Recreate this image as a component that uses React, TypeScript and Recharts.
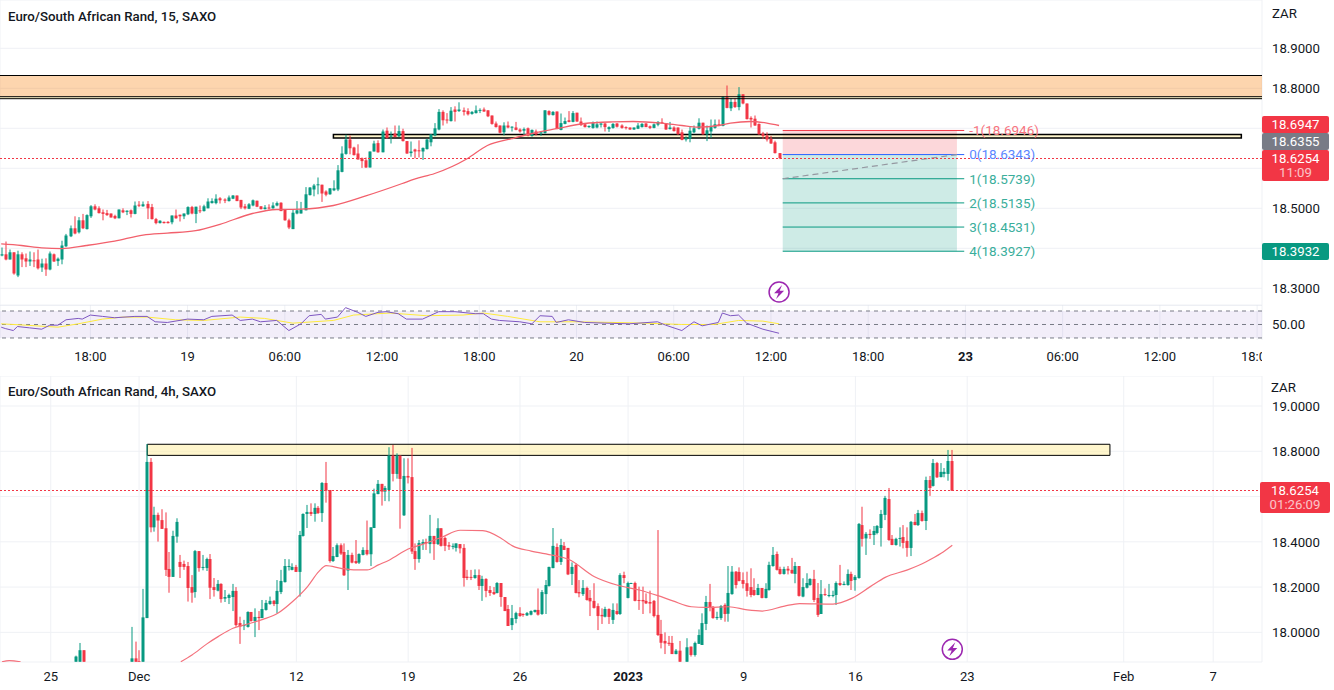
import React from "react";
import { ComposedChart, Bar, Line, XAxis, YAxis, CartesianGrid, ReferenceArea, ReferenceLine, ReferenceDot } from "recharts";

type C = [number, number, number, number];
const FONT = "Roboto, sans-serif";
const UP = "#089981";
const DOWN = "#f23645";
const GRID = "#eff1f5";
const TEXT = "#131722";

// Prices are stored as thousandths above 18 ZAR: [open, high, low, close]
const topCandlesA: C[] = [
[382,402,380,385],[385,417,370,372],[372,397,372,390],[390,390,334,337],[332,394,328,385],[385,390,353,372],[375,387,353,367],[367,392,356,372],[370,390,353,369],[372,397,347,350],
[352,374,341,362],[362,375,331,347],[347,392,345,387],[385,387,366,367],[368,377,356,374],[372,419,360,407],[405,436,403,432],[430,457,428,450],[450,480,435,437],[440,478,437,470],
[470,486,448,450],[448,485,447,483],[480,508,476,505],[505,510,495,497],[500,505,487,488],[490,497,470,486],[488,496,481,483],[487,487,477,477],[481,484,473,475],[475,497,475,497],
[495,500,488,490],[491,495,483,494],[495,497,477,486],[486,517,485,507],[509,518,503,507],[505,517,504,510],[511,518,473,500],[503,511,472,473],[473,476,460,463],[463,470,462,469],
[466,467,462,463],[466,468,462,463],[465,482,460,482],[482,497,474,475],[484,484,467,480],[480,487,473,487],[485,505,483,503],[503,506,485,487],[486,504,463,504],[495,507,488,493],
[493,509,492,505],[500,525,500,517],[513,525,512,518],[513,535,510,524],[525,528,512,520],[522,525,513,519],[518,532,517,527],[524,533,523,532],[532,532,518,518],[521,521,498,502],
[505,511,497,500],[499,513,498,510],[507,522,505,520],[519,519,503,504],[505,505,497,498],[498,508,497,502],[502,510,497,500],[500,515,499,507],[507,517,505,513],[514,515,493,493],
[498,498,469,470],[470,474,448,452],[448,496,448,489],[487,518,485,495],[487,516,487,497],[495,553,495,535],[533,553,532,552],[547,561,530,557],[558,577,535,560],[559,559,516,537],
[542,545,530,534],[535,550,534,550],[545,570,543,550],[547,608,543,595],[591,655,590,637],[636,684,634,672],[672,682,635,650],[652,654,632,633],[637,660,622,622],[625,627,601,618],
[620,627,601,602],[602,642,602,642],[642,669,642,662],[663,670,639,640],[640,697,640,692],[694,702,674,676],[679,692,662,682],[687,707,678,678],[680,707,678,693],
];
const topCandlesB: C[] = [
[693,699,667,668],[668,668,636,637],[638,667,629,642],[647,649,625,642],[645,670,627,643],[642,652,621,651],[648,674,647,672],[665,685,655,685],[682,713,680,700],[697,748,695,741],
[741,745,707,720],[722,738,712,720],[718,753,717,744],[747,755,717,741],[743,765,741,747],[745,752,732,741],[743,750,732,735],[736,743,734,741],[738,757,737,745],[744,750,738,746],
[747,752,741,742],[745,745,728,730],[732,732,709,711],[712,717,702,703],[707,707,687,689],[690,715,682,707],[707,717,700,702],[703,705,692,704],[702,716,695,696],[697,700,689,692],
[694,702,682,698],[700,702,680,682],[681,697,679,696],[692,697,682,685],[687,692,681,690],[688,745,687,745],[743,745,732,734],[733,743,732,741],[742,742,698,698],[696,737,695,713],
[711,727,710,718],[720,743,715,716],[716,743,715,738],[739,739,716,717],[717,727,706,708],[710,712,702,703],[703,707,701,706],[701,717,699,713],[702,717,700,710],[709,713,702,712],
[712,713,692,703],[698,705,691,703],[701,713,699,711],[712,713,702,704],[707,710,699,701],[703,705,697,701],[702,702,696,697],[697,702,696,702],[699,713,698,707],[703,713,702,711],
[712,713,703,703],[705,707,698,701],[701,712,700,710],[709,718,705,716],[715,725,712,713],[713,713,696,697],[698,716,697,702],[702,705,692,693],[702,702,684,685],[690,697,670,671],
[672,680,667,676],[674,703,665,694],[690,707,688,700],[699,725,697,714],[714,714,684,685],[685,707,668,695],[692,722,676,703],[701,722,699,710],[710,722,705,706],[706,780,705,778],
[778,807,750,751],[750,775,743,766],[766,775,751,753],[753,803,745,785],[785,785,760,762],[762,762,722,723],[726,730,702,722],[724,732,706,707],[711,712,684,685],[687,691,673,681],
[682,690,667,672],[674,681,661,662],[665,669,637,638],[638,638,623,625],
];
const topEmaIdx = [0,5,10,15,21,28,35,41,48,54,62,68,74,82,90,99,102,107,115,120,126,131,137,144,151,156,163,168,172,177,180,185,189,192];
const topEmaVal = [411,407,401,399,407,418,433,438,444,460,487,497,498,507,531,562,573,587,624,657,674,687,699,712,716,717,713,707,703,707,713,717,713,707];

const rsiIdx = [0,1,3,4,7,10,12,14,16,19,20,22,25,28,33,36,38,41,46,50,52,57,59,62,64,68,71,74,76,79,80,83,85,88,90,93,95,98,100,104,108,112,117,119,121,123,128,131,133,136,137,140,144,149,155,162,164,168,171,173,177,178,180,182,184,188,192];
const rsiVal = [46,44,41,47,45,43,49,49,57,59,58,64,62,60,62,62,54,53,58,57,62,64,56,58,54,56,41,51,63,65,58,61,75,68,62,68,69,66,58,58,69,69,66,66,58,56,54,51,63,62,53,57,53,52,51,54,49,41,54,48,53,67,63,64,52,43,37];
const rsiMaIdx = [0,6,14,19,25,30,36,43,50,59,65,72,82,87,96,105,114,119,125,133,142,151,159,168,176,182,188,192];
const rsiMaVal = [51,49,46,51,58,61,61,57,56,61,59,52,56,64,67,63,64,67,62,54,54,53,52,50,50,56,55,51];

const lowCandlesA: C[] = [[-130,-103,-130,-107],[-130,-47,-130,-79],[-79,-79,-130,-130]];
const lowCandlesB: C[] = [
[-130,24,-130,-115],[-115,-41,-130,-130],[-128,-79,-130,-130],[-130,192,-130,66],[63,832,63,753],[753,770,442,464],[464,555,445,519],[519,529,401,494],[496,544,457,457],[460,530,249,276],
[280,355,175,245],[245,449,245,426],[423,504,396,488],[311,342,240,289],[302,317,276,289],[293,311,136,196],[200,253,131,175],[178,364,153,359],[359,359,268,284],[286,342,274,289],
[284,330,271,324],[324,346,147,197],[200,240,158,187],[184,231,181,214],[214,217,131,147],[149,187,134,156],[152,171,125,165],[156,214,94,183],[183,200,25,32],[41,69,-51,25],
[28,55,10,32],[24,93,21,90],[90,90,47,50],[50,106,-21,68],[68,94,10,63],[63,143,63,103],[99,143,96,130],[125,158,122,139],[139,143,116,125],[125,231,84,183],
[178,276,169,227],[222,324,220,293],[289,323,273,293],[276,305,274,289],[289,298,267,267],[267,448,158,430],[426,526,423,523],[523,563,461,532],[532,570,514,523],[523,570,489,550],
[550,558,523,527],[527,664,488,660],[660,753,573,626],[629,629,308,315],[315,377,311,337],[333,393,332,385],[385,393,342,348],[355,393,249,252],[273,364,187,342],[342,352,305,308],
[315,408,302,306],[308,349,302,346],[342,376,340,364],[364,494,340,345],[345,464,293,464],[461,635,461,614],[611,673,610,656],[656,656,560,622],[622,647,580,638],[629,818,579,781],
[781,828,667,700],[700,791,679,781],[781,781,458,678],[517,769,514,691],[691,769,658,684],[686,815,346,357],[359,393,276,324],[324,408,308,395],[390,411,364,399],[399,414,364,393],
[390,519,349,426],[426,426,320,390],[390,504,386,460],[460,460,379,382],[417,423,359,382],[385,399,364,379],[379,393,367,382],[373,393,357,393],[390,390,349,371],[373,390,202,240],
[246,276,231,240],[245,276,231,242],[240,278,237,253],[253,278,187,205],[205,250,139,236],[236,239,155,183],[187,205,161,174],[178,200,165,169],[174,222,172,218],[218,218,113,156],
[156,156,94,94],[103,121,28,28],[32,121,10,63],[59,91,40,85],[85,111,69,72],[81,84,69,77],[75,90,72,85],[78,97,75,94],[90,100,87,99],[99,194,74,78],
[81,187,77,178],[169,231,81,209],[205,290,202,289],[284,461,283,382],[377,393,308,311],[311,413,298,386],[382,399,364,364],[373,373,253,256],[258,309,209,289],[298,305,172,174],
[178,231,155,172],[169,231,161,196],[196,202,140,143],[152,187,72,137],[139,217,105,108],[116,128,10,72],[77,106,37,71],[69,113,66,103],[103,106,37,68],[55,128,37,99],
[94,128,77,81],[81,261,77,253],[253,268,217,240],[152,224,150,218],[217,219,215,218],[218,224,137,139],[143,202,99,139],[143,202,81,137],[139,172,125,128],[134,184,84,127],
[139,143,66,72],[77,452,-16,-12],[-7,55,-71,-46],[-38,0,-96,-49],[-46,-16,-60,-51],[-47,-16,-96,-96],[-96,-74,-97,-81],[-81,-38,-130,-130],
];
const lowCandlesC: C[] = [
[-130,-26,-130,-66],[-63,-63,-107,-100],[-100,-41,-107,-47],[-51,13,-51,-12],[-56,84,-56,41],[37,161,10,134],[134,214,93,108],[113,116,60,63],[63,91,55,68],[63,121,55,116],
[121,128,47,81],[82,293,47,174],[169,293,166,268],[268,271,194,209],[267,287,225,227],[231,265,194,214],[217,268,158,183],[200,283,155,165],[187,239,161,165],[165,214,164,196],
[196,196,150,152],[152,217,150,192],[187,312,184,298],[293,377,290,342],[346,357,273,276],[280,290,255,258],[258,290,255,280],[281,293,256,273],[276,329,258,261],[258,311,217,293],
[293,293,158,161],[158,239,155,200],[197,261,194,218],[209,239,206,236],[236,276,134,143],[152,218,68,77],[81,231,81,169],[169,194,161,165],[161,214,155,165],[161,184,155,165],
[165,225,121,218],[218,298,205,209],[209,225,208,214],[209,278,206,258],[258,268,187,227],[231,253,184,245],[240,483,237,479],[474,555,379,413],[415,443,342,435],[435,455,413,430],
[430,470,386,448],[439,474,433,470],[461,541,379,523],[519,603,496,594],[589,638,404,408],[413,430,385,386],[386,418,383,413],[414,464,379,417],[421,474,371,395],[404,464,334,373],
[373,492,337,488],[488,523,473,474],[474,541,470,527],[527,538,489,492],[492,688,452,673],[673,691,603,638],[647,766,644,748],[748,753,682,685],[686,748,685,709],[700,726,685,709],
[700,806,670,757],[757,806,625,626],
];
const lowEmaLeftIdx = [-39,-37,-34];
const lowEmaLeftVal = [-130,-125,-130];
const lowEmaIdx = [9,12,16,19,23,27,31,35,39,43,46,48,52,56,59,62,65,70,74,79,84,90,95,98,103,109,113,120,126,132,137,141,146,150,156,161,165,171,175,184,189,194,198,204,209,213,216];
const lowEmaVal = [-130,-100,-51,-19,18,37,57,84,136,202,268,295,283,276,276,298,320,368,390,420,451,449,415,382,359,340,323,246,209,187,162,139,113,110,113,99,94,116,127,125,150,202,243,276,312,349,385];

const topTimeTicks = [22,46,70,94,118,142,166,190,214,238,262,286,310];
const topTimeLabels = ["18:00","19","06:00","12:00","18:00","20","06:00","12:00","18:00","23","06:00","12:00","18:00"];
const topBoldLabels = ["23"];
const lowTimeTicks = [-25.9,-2.2,40,70,100,129,160,190,220,262,286];
const lowTimeLabels = ["25","Dec","12","19","26","2023","9","16","23","Feb","7"];
const lowBoldLabels = ["2023"];

const topPriceTicks = [18.3,18.4,18.5,18.6,18.7,18.8,18.9];
const topPriceShown = [18.3,18.5,18.8,18.9];
const lowPriceTicks = [18,18.2,18.4,18.6,18.8,19];
const lowPriceShown = [18,18.2,18.4,18.8,19];

const positionLevels = [
  { name: "-1(18.6946)", price: 18.6946, color: "#f23645", labelColor: "#f7737e" },
  { name: "0(18.6343)", price: 18.6343, color: "#2962ff", labelColor: "#5b87ff" },
  { name: "1(18.5739)", price: 18.5739, color: UP, labelColor: "#3aae9b" },
  { name: "2(18.5135)", price: 18.5135, color: UP, labelColor: "#3aae9b" },
  { name: "3(18.4531)", price: 18.4531, color: UP, labelColor: "#3aae9b" },
  { name: "4(18.3927)", price: 18.3927, color: UP, labelColor: "#3aae9b" },
];

const toPrice = (v: number) => 18 + v / 1000;
const rows = (c: C[], start: number) =>
  c.map(([o, h, l, cl], n) => ({ x: start + n, open: toPrice(o), high: toPrice(h), low: toPrice(l), close: toPrice(cl) }));
const series = (idx: number[], val: number[]) => idx.map((x, n) => ({ x, y: toPrice(val[n]) }));
const plain = (idx: number[], val: number[]) => idx.map((x, n) => ({ x, y: val[n] }));

const topData = rows([...topCandlesA, ...topCandlesB], 0);
const lowData = [...rows(lowCandlesA, -19), ...rows(lowCandlesB, -4), ...rows(lowCandlesC, 145)];

const Candle = (p: any) => {
  const { x, y, width, height, payload } = p;
  if (!payload) return null;
  const cx = Math.round(x + width / 2);
  const span = payload.high - payload.low || 1;
  const at = (v: number) => y + ((payload.high - v) / span) * height;
  const up = payload.close >= payload.open;
  const top = at(Math.max(payload.open, payload.close));
  const bottom = at(Math.min(payload.open, payload.close));
  const col = up ? UP : DOWN;
  return (
    <g>
      <rect x={cx - 0.5} y={y} width={1} height={Math.max(height, 1)} fill={col} />
      <rect x={cx - 1.5} y={top} width={3} height={Math.max(bottom - top, 1)} fill={col} />
    </g>
  );
};

const Bolt = (p: any) => (
  <g transform={`translate(${p.cx},${p.cy})`}>
    <circle r={10} fill="#fff" stroke="#9c27b0" strokeWidth={1.5} />
    <path d="M3,-7 L-5,1.2 L-0.6,1.2 L-3,7 L5,-1.2 L0.6,-1.2 Z" fill="#9c27b0" />
  </g>
);

const TimeTick = (ticks: number[], labels: string[], bold: string[]) => (p: any) => {
  const label = labels[ticks.indexOf(p.payload.value)];
  return (
    <text x={p.x} y={p.y} textAnchor="middle" dominantBaseline="central" fontFamily={FONT} fontSize={13}
      fill={TEXT} fontWeight={bold.includes(label) ? 700 : 400}>{label}</text>
  );
};

const PriceTick = (shown: number[], digits: number, dy: number) => (p: any) => {
  if (!shown.includes(p.payload.value)) return null;
  return (
    <text x={p.x} y={p.y + dy} dominantBaseline="central" fontFamily={FONT} fontSize={13.2} fill={TEXT}>
      {p.payload.value.toFixed(digits)}
    </text>
  );
};

const Tag = ({ top, h, bg, left = 1262, w = 67, lines }: { top: number; h: number; bg: string; left?: number; w?: number; lines: string[] }) => (
  <div style={{ position: "absolute", left, top, width: w, height: h, background: bg, borderRadius: 2, color: "#fff", fontFamily: FONT, fontSize: 13.2, textAlign: "center", lineHeight: "14px", paddingTop: (h - lines.length * 14) / 2, boxSizing: "border-box" }}>
    {lines.map((l, n) => (
      <div key={l} style={{ opacity: n ? 0.7 : 1 }}>{l}</div>
    ))}
  </div>
);

const Label = ({ x, y, children, size = 13.25, weight = 500 }: any) => (
  <div style={{ position: "absolute", left: x, top: y - 8, lineHeight: "16px", fontFamily: FONT, fontSize: size, fontWeight: weight, color: TEXT, whiteSpace: "nowrap" }}>{children}</div>
);

const TOP_X: [number, number] = [-0.296, 311.2];
const LOW_X: [number, number] = [-39.52, 299.1];
const ZONE = "#ffee9b";

export default function App() {
  return (
    <div style={{ position: "absolute", left: 0, top: 0, width: 1334, height: 690, background: "#fff", overflow: "hidden" }}>
      <div style={{ position: "absolute", left: 0, top: 0 }}>
        <ComposedChart width={1334} height={305} data={topData} margin={{ top: 0, right: 0, bottom: 0, left: 0 }}>
          <CartesianGrid stroke={GRID} />
          <XAxis dataKey="x" type="number" domain={TOP_X} ticks={topTimeTicks} height={0} axisLine={false} tickLine={false} tick={false} allowDataOverflow />
          <YAxis orientation="right" width={72} domain={[18.25825, 19.02075]} ticks={topPriceTicks} axisLine={false} tickLine={false} tickMargin={4} tick={PriceTick(topPriceShown, 4, 0)} allowDataOverflow />
          <ReferenceArea x1={TOP_X[0]} x2={TOP_X[1]} y1={18.832} y2={18.779} fill="#f98718" fillOpacity={0.35} stroke="none" />
          <ReferenceArea x1={TOP_X[0]} x2={TOP_X[1]} y1={18.779} y2={18.774} fill={ZONE} fillOpacity={0.5} stroke="none" />
          <ReferenceLine y={18.832} stroke="#000" />
          <ReferenceLine y={18.779} stroke="#000" />
          <ReferenceLine y={18.774} stroke="#000" />
          <ReferenceArea x1={192.9} x2={235.9} y1={18.6946} y2={18.6343} fill={DOWN} fillOpacity={0.2} stroke="none" />
          <ReferenceArea x1={192.9} x2={235.9} y1={18.6343} y2={18.3927} fill={UP} fillOpacity={0.2} stroke="none" />
          {positionLevels.map((l) => (
            <ReferenceLine key={l.name} segment={[{ x: 192.9, y: l.price }, { x: 237.7, y: l.price }]} stroke={l.color} strokeWidth={1}
              label={{ value: l.name, position: "right", offset: 5, fill: l.labelColor, fontSize: 13.5, fontFamily: FONT }} />
          ))}
          <ReferenceLine segment={[{ x: 192.9, y: 18.5739 }, { x: 235.9, y: 18.6343 }]} stroke="#9598a1" strokeWidth={1.2} strokeDasharray="6 4" />
          <Bar dataKey={(d: any) => [d.low, d.high]} barSize={3} shape={Candle} isAnimationActive={false} />
          <Line data={series(topEmaIdx, topEmaVal)} dataKey="y" stroke="#f2606c" strokeWidth={1.3} dot={false} activeDot={false} type="monotone" isAnimationActive={false} />
          <ReferenceArea x1={82} x2={306.1} y1={18.6843} y2={18.6758} fill={ZONE} fillOpacity={0.5} stroke="#000" strokeWidth={1.5} strokeOpacity={1} />
          <ReferenceLine y={18.6254} stroke={DOWN} strokeDasharray="2 2" shapeRendering="crispEdges" />
          <ReferenceDot x={192} y={18.2908} r={10} shape={Bolt} />
        </ComposedChart>
      </div>
      <div style={{ position: "absolute", left: 0, top: 305 }}>
        <ComposedChart width={1334} height={71} margin={{ top: 0, right: 0, bottom: 0, left: 0 }}>
          <CartesianGrid stroke={GRID} horizontal={false} />
          <XAxis dataKey="x" type="number" domain={TOP_X} ticks={topTimeTicks} interval={0} height={36} axisLine={false} tickLine={false} tickMargin={10} tick={TimeTick(topTimeTicks, topTimeLabels, topBoldLabels)} allowDataOverflow />
          <YAxis orientation="right" width={72} domain={[27, 78.9]} ticks={[50]} axisLine={false} tickLine={false} tickMargin={4} tick={PriceTick([50], 2, 0)} allowDataOverflow />
          <ReferenceLine y={78.8} stroke="#e0e3eb" />
          <ReferenceArea x1={TOP_X[0]} x2={TOP_X[1]} y1={30} y2={70} fill="#7e57c2" fillOpacity={0.1} stroke="none" />
          <ReferenceLine y={70} stroke="#787b86" strokeDasharray="4 4" />
          <ReferenceLine y={50} stroke="#787b86" strokeDasharray="4 4" />
          <ReferenceLine y={30} stroke="#787b86" strokeDasharray="4 4" />
          <Line data={plain(rsiMaIdx, rsiMaVal)} dataKey="y" stroke="#ffeb3b" strokeWidth={1} dot={false} activeDot={false} isAnimationActive={false} />
          <Line data={plain(rsiIdx, rsiVal)} dataKey="y" stroke="#7e57c2" strokeWidth={1} dot={false} activeDot={false} isAnimationActive={false} />
        </ComposedChart>
      </div>
      <div style={{ position: "absolute", left: 0, top: 376 }}>
        <ComposedChart width={1334} height={314} data={lowData} margin={{ top: 0, right: 0, bottom: 0, left: 0 }}>
          <CartesianGrid stroke={GRID} />
          <XAxis dataKey="x" type="number" domain={LOW_X} ticks={lowTimeTicks} interval={0} height={28} axisLine={false} tickLine={false} tickMargin={8} tick={TimeTick(lowTimeTicks, lowTimeLabels, lowBoldLabels)} allowDataOverflow />
          <YAxis orientation="right" width={72} domain={[17.8689, 19.1327]} ticks={lowPriceTicks} axisLine={false} tickLine={false} tickMargin={4} tick={PriceTick(lowPriceShown, 4, 0.5)} allowDataOverflow />
          <ReferenceArea x1={0} x2={258.3} y1={18.831} y2={18.782} fill={ZONE} fillOpacity={0.5} stroke="#000" strokeWidth={1} strokeOpacity={1} />
          <Bar dataKey={(d: any) => [d.low, d.high]} barSize={3} shape={Candle} isAnimationActive={false} />
          <Line data={series(lowEmaLeftIdx, lowEmaLeftVal)} dataKey="y" stroke="#f4717c" strokeWidth={1.2} dot={false} activeDot={false} type="monotone" isAnimationActive={false} />
          <Line data={series(lowEmaIdx, lowEmaVal)} dataKey="y" stroke="#f4717c" strokeWidth={1.2} dot={false} activeDot={false} type="monotone" isAnimationActive={false} />
          <ReferenceLine y={18.6254} stroke={DOWN} strokeDasharray="2 2" shapeRendering="crispEdges" />
          <ReferenceDot x={216} y={17.925} r={10} shape={Bolt} />
        </ComposedChart>
      </div>
      <div style={{ position: "absolute", left: 1262, top: 342, width: 72, height: 30, background: "#fff" }} />
      <Label x={8} y={17}>Euro/South African Rand, 15, SAXO</Label>
      <Label x={8} y={392}>Euro/South African Rand, 4h, SAXO</Label>
      <Label x={1272} y={14} weight={400}>ZAR</Label>
      <Label x={1271} y={388} weight={400}>ZAR</Label>
      <Tag top={116} h={17} bg={DOWN} lines={["18.6947"]} />
      <Tag top={133} h={17} bg="#787b86" lines={["18.6355"]} />
      <Tag top={150} h={31} bg={DOWN} lines={["18.6254", "11:09"]} />
      <Tag top={243} h={17} bg={UP} lines={["18.3932"]} />
      <Tag top={482} h={31} bg={DOWN} left={1260} w={70} lines={["18.6254", "01:26:09"]} />
    </div>
  );
}
